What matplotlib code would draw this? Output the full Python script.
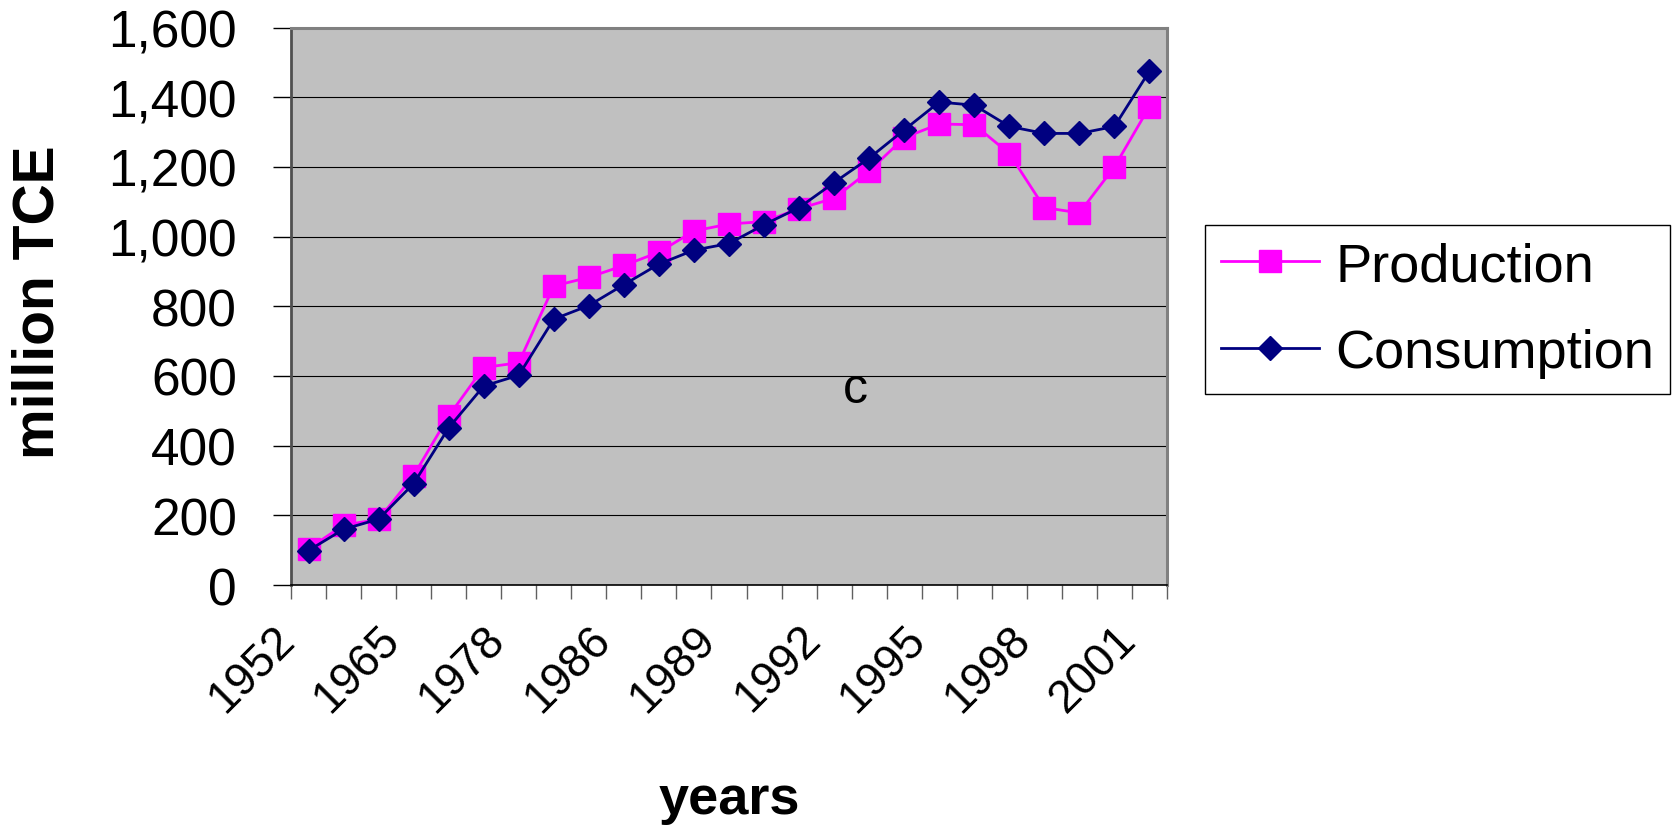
import matplotlib
matplotlib.use("Agg")
import matplotlib.pyplot as plt
from matplotlib.ticker import FuncFormatter
from matplotlib.lines import Line2D
from matplotlib.transforms import ScaledTranslation
import numpy as np

plt.rcParams['font.family'] = ['Liberation Sans', 'DejaVu Sans']

years = ['1952', '1957', '1962', '1965', '1970', '1975', '1978', '1980', '1985',
         '1986', '1987', '1988', '1989', '1990', '1991', '1992', '1993', '1994',
         '1995', '1996', '1997', '1998', '1999', '2000', '2001']
production = [104, 172, 188, 314, 485, 624, 638, 858, 883, 917, 955, 1016, 1036,
              1043, 1080, 1110, 1188, 1284, 1323, 1321, 1238, 1083, 1068, 1200, 1373]
consumption = [99, 160, 189, 291, 451, 571, 602, 763, 802, 862, 921, 961, 980,
               1034, 1083, 1155, 1225, 1306, 1386, 1377, 1316, 1296, 1296, 1316, 1475]
labelled_years = ['1952', '1965', '1978', '1986', '1989', '1992', '1995', '1998', '2001']
y_ticks = [0, 200, 400, 600, 800, 1000, 1200, 1400, 1600]

W, H = 1679, 828
fig = plt.figure(figsize=(W / 100, H / 100), dpi=100)
ax = fig.add_axes([291 / W, 1 - 586 / H, 876 / W, (586 - 28.5) / H])
ax.set_facecolor('#C0C0C0')

x = np.arange(len(years))
ax.plot(x, production, color='#FF00FF', lw=2.0, marker='s', ms=16,
        mec='#FF00FF', mfc='#FF00FF', label='Production', zorder=3)
ax.plot(x, consumption, color='#000080', lw=2.0, marker='D', ms=12.5,
        mec='#000080', mfc='#000080', label='Consumption', zorder=4)

ax.set_xlim(-0.5, len(years) - 0.5)
ax.set_ylim(y_ticks[0], y_ticks[-1])

# y axis
ax.set_yticks(y_ticks)
ax.yaxis.set_major_formatter(FuncFormatter(lambda v, p: f'{int(v):,}'))
ax.tick_params(axis='y', which='major', direction='out', length=13, width=1,
               color='black', pad=26, labelsize=37)
ax.yaxis.grid(True, color='black', lw=0.8)
ax.set_axisbelow(True)

# x axis: tick marks between categories, labels on every third category
ax.set_xticks(np.arange(-0.5, len(years)), labels=[])
ax.tick_params(axis='x', which='major', direction='out', length=10, width=1, color='#606060')
lab_pos = [years.index(y) for y in labelled_years]
ax.set_xticks(lab_pos, labels=labelled_years, minor=True, rotation=45,
              ha='right', va='baseline', rotation_mode='anchor')
ax.tick_params(axis='x', which='minor', length=0, pad=40, labelsize=33)
shift = ScaledTranslation(-8.5 / 72, 0, fig.dpi_scale_trans)
for lab in ax.get_xticklabels(minor=True):
    lab.set_transform(lab.get_transform() + shift)

for side in ('top', 'right'):
    ax.spines[side].set_color('#808080')
    ax.spines[side].set_linewidth(2.2)
ax.spines['left'].set_color('#505050')
ax.spines['left'].set_linewidth(2.0)
ax.spines['bottom'].set_color('black')
ax.spines['bottom'].set_linewidth(1.2)

ax.set_ylabel('million TCE', fontsize=41, fontweight='bold', va='center')
ax.yaxis.set_label_coords((39 - 291) / 876, (586 - 302) / 557.5)
ax.set_xlabel('years', fontsize=39, fontweight='bold', va='baseline')
ax.xaxis.set_label_coords(0.5, (586 - 814) / 557.5)

ax.text(15.6, 563, 'c', fontsize=36, ha='center', va='center')

handles = [Line2D([], [], color='#FF00FF', lw=2.0, marker='s', ms=16),
           Line2D([], [], color='#000080', lw=2.0, marker='D', ms=12)]
leg = fig.legend(handles, ['Production', 'Consumption'], loc='upper left',
                 bbox_to_anchor=(1205 / W, 1 - 226 / H), fontsize=39,
                 frameon=True, fancybox=False, edgecolor='black', framealpha=1,
                 handlelength=1.8, handletextpad=0.3, borderpad=0.3,
                 labelspacing=0.67, borderaxespad=0)
leg.get_frame().set_linewidth(1.0)

fig.savefig('out.png', dpi=100)
